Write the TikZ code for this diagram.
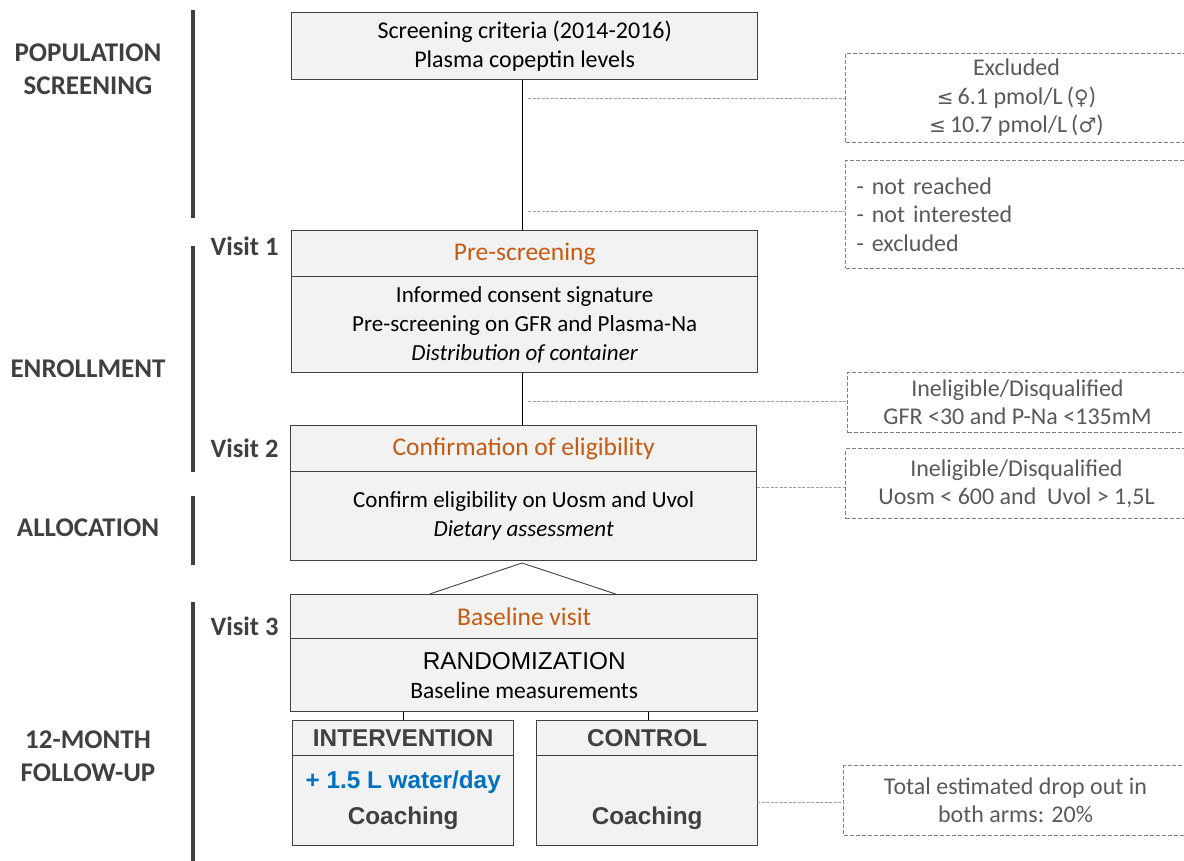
\documentclass[tikz,border=0pt]{standalone}
\usepackage{fontspec}
\setmainfont{Carlito}
\newfontfamily\arialf{Liberation Sans}
\newfontfamily\dvs{DejaVu Sans}
\usetikzlibrary{calc}
\definecolor{boxfill}{HTML}{F2F2F2}
\definecolor{boxline}{HTML}{404040}
\definecolor{bargray}{HTML}{404040}
\definecolor{secgray}{HTML}{404040}
\definecolor{tgray}{HTML}{595959}
\definecolor{dgray}{HTML}{7F7F7F}
\definecolor{lgray}{HTML}{A0A0A0}
\definecolor{orng}{HTML}{C55A11}
\definecolor{blu}{HTML}{0070C0}
\newcommand{\symf}[1]{{\dvs\fontsize{20}{20}\selectfont #1}}
\tikzset{
  box/.style={draw=boxline, fill=boxfill, line width=1.4pt, inner sep=0pt, anchor=north west, align=center, font=\fontsize{23}{29}\selectfont},
  head/.style={box, text=orng, font=\fontsize{25.5}{29}\selectfont},
  armhead/.style={box, text=secgray, font=\arialf\bfseries\fontsize{24.3}{29}\selectfont},
  armbody/.style={box, text=secgray, font=\arialf\bfseries\fontsize{24.3}{36}\selectfont},
  dbox/.style={draw=dgray, dash pattern=on 4pt off 2pt, line width=1pt, inner sep=0pt, anchor=north west, align=center, text=tgray, font=\fontsize{24}{28.5}\selectfont},
  conn/.style={draw=black, line width=0.9pt},
  tri/.style={draw=boxline, line width=0.9pt},
  dconn/.style={draw=lgray, dash pattern=on 3pt off 1.5pt, line width=1pt},
  bar/.style={draw=bargray, line width=4.5pt},
  sec/.style={text=secgray, align=center, font=\bfseries\fontsize{27}{33}\selectfont},
  visit/.style={text=secgray, anchor=east, font=\bfseries\fontsize{26.5}{30}\selectfont},
}
\begin{document}
\begin{tikzpicture}[x=1pt,y=-1pt]
\useasboundingbox (0,0) rectangle (1184,861);
\clip (0,0) rectangle (1184,861);

% section bars
\draw[bar] (193,10) -- (193,218);
\draw[bar] (193,246) -- (193,472);
\draw[bar] (193,496) -- (193,565);
\draw[bar] (193,602) -- (193,865);

% section labels
\node[sec] (s1) at (88,69) {POPULATION\\SCREENING};
\node[sec] (s2) at (88,369) {ENROLLMENT};
\node[sec] (s3) at (88,528) {ALLOCATION};
\node[sec] (s4) at (88,756) {12-MONTH\\FOLLOW-UP};

% visit labels
\node[visit] (v1) at (282,246) {Visit 1};
\node[visit] (v2) at (282,448) {Visit 2};
\node[visit] (v3) at (282,626) {Visit 3};

% main boxes
\node[box, minimum width=466pt, minimum height=67pt, font=\fontsize{24}{29}\selectfont] (A) at (291,12)
  {Screening criteria (2014-2016)\\Plasma copeptin levels};

\node[head, minimum width=466pt, minimum height=46pt] (B1) at (291,230) {Pre-screening};
\node[box, minimum width=466pt, minimum height=96pt] (B2) at (291,276)
  {Informed consent signature\\Pre-screening on GFR and Plasma-Na\\\textit{Distribution of container}};

\node[head, minimum width=466pt, minimum height=46pt] (C1) at (290,425) {Confirmation of eligibility};
\node[box, minimum width=466pt, minimum height=89pt] (C2) at (290,471)
  {Confirm eligibility on Uosm and Uvol\\\textit{Dietary assessment}};

\node[head, minimum width=467pt, minimum height=44pt] (D1) at (290,594) {Baseline visit};
\node[box, minimum width=467pt, minimum height=73pt, font=\fontsize{23.5}{29}\selectfont] (D2) at (290,638)
  {{\arialf\fontsize{24.4}{29}\selectfont RANDOMIZATION}\\Baseline measurements};

\node[armhead, minimum width=221pt, minimum height=35pt] (I1) at (292,720) {INTERVENTION};
\node[armbody, minimum width=221pt, minimum height=90pt] (I2) at (292,755)
  {\textcolor{blu}{+ 1.5 L water/day}\\Coaching};
\node[armhead, minimum width=221pt, minimum height=35pt] (K1) at (536,720) {CONTROL};
\node[armbody, minimum width=221pt, minimum height=90pt] (K2) at (536,755)
  {\phantom{+ 1.5 L water/day}\\Coaching};

% dashed boxes
\node[dbox, minimum width=342pt, minimum height=89pt] (E1) at (845,53)
  {Excluded\\\symf{≤}\,6.1 pmol/L\,(\symf{♀})\\\symf{≤}\,10.7 pmol/L\,(\symf{♂})};
\node[dbox, minimum width=342pt, minimum height=108pt, align=left, text width=330pt, inner xsep=11pt] (E2) at (845,160)
  {- not reached\\- not interested\\- excluded};
\node[dbox, minimum width=340pt, minimum height=60pt] (E3) at (847,372)
  {Ineligible/Disqualified\\GFR <30 and P-Na <135mM};
\node[dbox, minimum width=342pt, minimum height=70pt] (E4) at (845,448)
  {Ineligible/Disqualified\\Uosm < 600 and\ \ Uvol > 1,5L};
\node[dbox, minimum width=344pt, minimum height=70pt] (E5) at (843,765)
  {Total estimated drop out in\\both arms: 20\%};

% connectors
\draw[conn] (A.south -| 522,0) -- (B1.north -| 522,0);
\draw[conn] (B2.south -| 522,0) -- (C1.north -| 522,0);
\coordinate (apex) at (522,563);
\draw[tri] ($(D1.north)+(-94.5,0)$) -- (apex) -- ($(D1.north)+(91.5,0)$);
\draw[conn] (I1.north) -- (I1.north |- D2.south);
\draw[conn] (648,720) coordinate (kt) -- (kt |- D2.south);

% dashed connectors
\coordinate (d1) at (528,99);
\draw[dconn] (d1) -- (d1 -| E1.west);
\coordinate (d2) at (528,212);
\draw[dconn] (d2) -- (d2 -| E2.west);
\coordinate (d3) at (528,401);
\draw[dconn] (d3) -- (d3 -| E3.west);
\coordinate (d4) at (757,487);
\draw[dconn] (d4) -- (d4 -| E4.west);
\coordinate (d5) at (757,802);
\draw[dconn] (d5) -- (d5 -| E5.west);
\end{tikzpicture}
\end{document}
